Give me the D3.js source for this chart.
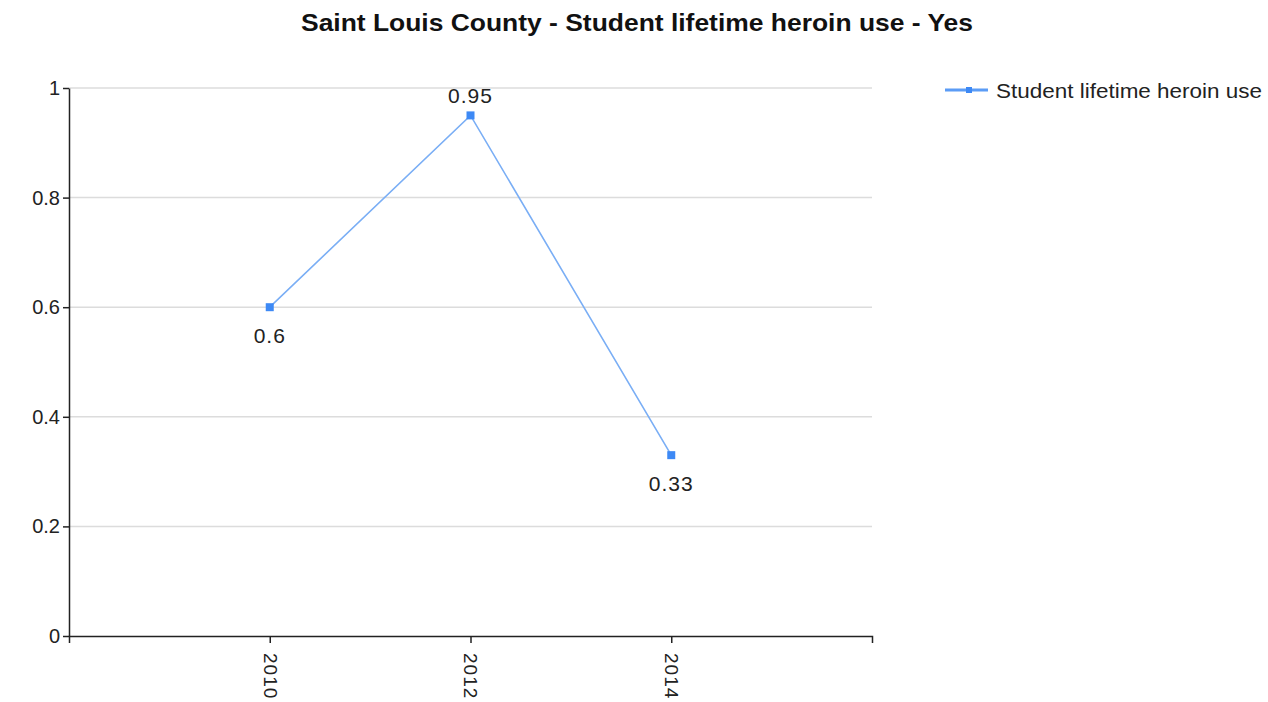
<!DOCTYPE html>
<html>
<head>
<meta charset="utf-8">
<script src="https://cdn.jsdelivr.net/npm/d3@7"></script>
<style>
  body { margin: 0; background: #fff; }
  text { font-family: "Liberation Sans", Arial, sans-serif; }
</style>
</head>
<body>
<script>
// chart data
const years = [2010, 2012, 2014];
const values = [0.6, 0.95, 0.33];
const labelPos = ["below", "above", "below"];
const yTicks = [0, 0.2, 0.4, 0.6, 0.8, 1];
const seriesName = "Student lifetime heroin use";
const title = "Saint Louis County - Student lifetime heroin use - Yes";

const width = 1268, height = 702;
const margin = { top: 88, right: 396, bottom: 66, left: 69 };

const svg = d3.select("body").append("svg")
    .attr("width", width)
    .attr("height", height);

const x = d3.scaleLinear()
    .domain([2008, 2016])
    .range([margin.left, width - margin.right]);

const y = d3.scaleLinear()
    .domain([0, 1])
    .range([height - margin.bottom, margin.top]);

// title
svg.append("text")
    .attr("x", 637)
    .attr("y", 31)
    .attr("text-anchor", "middle")
    .style("font-size", "24px")
    .style("font-weight", "bold")
    .attr("textLength", 672)
    .attr("lengthAdjust", "spacingAndGlyphs")
    .attr("fill", "#111")
    .text(title);

// gridlines
svg.append("g")
    .selectAll("line")
    .data(yTicks.filter(d => d > 0))
    .enter().append("line")
    .attr("x1", margin.left)
    .attr("x2", width - margin.right)
    .attr("y1", d => y(d))
    .attr("y2", d => y(d))
    .style("stroke", "#dcdcdc")
    .attr("stroke-width", 1.5);

// y axis
const yAxis = svg.append("g")
    .attr("transform", "translate(" + margin.left + ",0)")
    .call(d3.axisLeft(y).tickValues(yTicks).tickSize(6).tickSizeOuter(0)
        .tickFormat(d3.format("")));
yAxis.selectAll("text")
    .style("font-size", "20px")
    .attr("fill", "#222")
    .attr("x", -9);
yAxis.selectAll("line, path").style("stroke", "#222").attr("stroke-width", 1.5);

// x axis
const xAxis = svg.append("g")
    .attr("transform", "translate(0," + y(0) + ")")
    .call(d3.axisBottom(x).tickValues(years).tickSize(7).tickSizeOuter(7)
        .tickFormat(d3.format("d")));
xAxis.selectAll("text")
    .style("font-size", "19px")
    .style("letter-spacing", "1px")
    .attr("fill", "#222")
    .attr("transform", "rotate(90)")
    .attr("text-anchor", "start")
    .attr("x", 17)
    .attr("y", 0)
    .attr("dy", "0.35em");
xAxis.selectAll("line, path").style("stroke", "#222").attr("stroke-width", 1.5);

// line
const line = d3.line()
    .x((d, i) => x(years[i]))
    .y(d => y(d));

svg.append("path")
    .datum(values)
    .attr("fill", "none")
    .style("stroke", "#7aaef5")
    .attr("stroke-width", 1.6)
    .attr("d", line);

// markers
svg.selectAll(".marker")
    .data(values)
    .enter().append("rect")
    .attr("class", "marker")
    .attr("x", (d, i) => x(years[i]) - 4)
    .attr("y", d => y(d) - 4)
    .attr("width", 8)
    .attr("height", 8)
    .attr("fill", "#3d89f5");

// value labels
svg.selectAll(".vlabel")
    .data(values)
    .enter().append("text")
    .attr("class", "vlabel")
    .attr("x", (d, i) => x(years[i]))
    .attr("y", (d, i) => labelPos[i] === "above" ? y(d) - 12 : y(d) + 36)
    .attr("text-anchor", "middle")
    .style("font-size", "21px")
    .style("letter-spacing", "1px")
    .attr("fill", "#222")
    .text(d => d);

// legend
const legend = svg.append("g").attr("transform", "translate(945,90)");
legend.append("line")
    .attr("x1", 0).attr("x2", 43)
    .attr("y1", 0).attr("y2", 0)
    .style("stroke", "#5b9cf6")
    .attr("stroke-width", 3);
legend.append("rect")
    .attr("x", 21).attr("y", -3)
    .attr("width", 6).attr("height", 6)
    .attr("fill", "#3d89f5");
legend.append("text")
    .attr("x", 51)
    .attr("y", 1)
    .attr("dy", "0.35em")
    .style("font-size", "20px")
    .attr("textLength", 266)
    .attr("lengthAdjust", "spacingAndGlyphs")
    .attr("fill", "#222")
    .text(seriesName);
</script>
</body>
</html>
